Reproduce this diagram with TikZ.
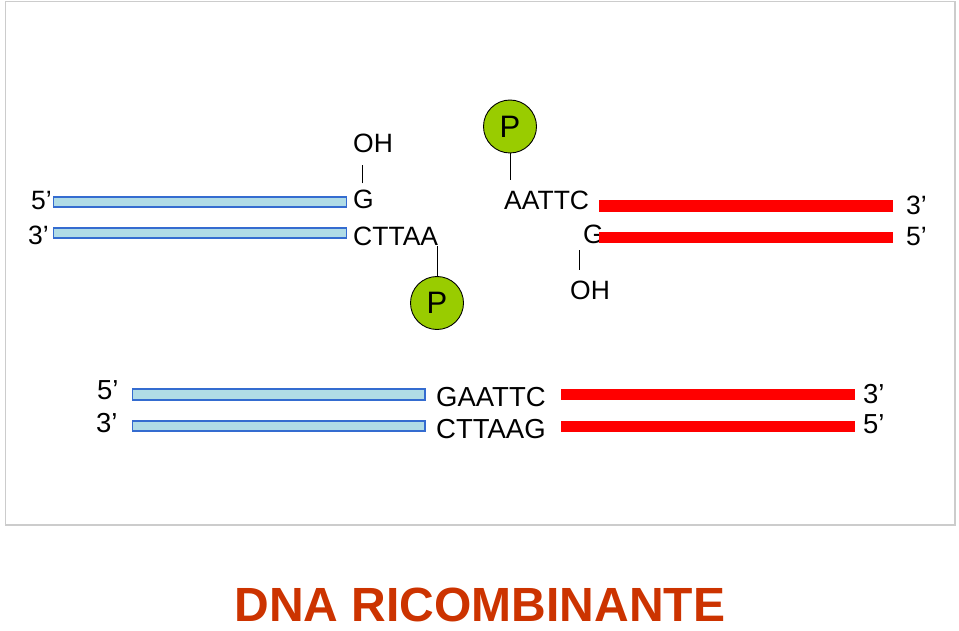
\documentclass[tikz,border=0pt]{standalone}
\usepackage{fontspec}
\setmainfont{Liberation Sans}
\usetikzlibrary{calc}
\definecolor{framegrey}{RGB}{204,204,204}
\definecolor{barblue}{RGB}{52,108,208}
\definecolor{barfill}{RGB}{176,220,230}
\definecolor{barred}{RGB}{255,0,0}
\definecolor{pgreen}{RGB}{153,204,0}
\definecolor{titlered}{RGB}{204,51,0}
\newcommand{\dnafont}{\fontsize{26.5}{30}\selectfont}
\newcommand{\dnafontb}{\fontsize{27.5}{30}\selectfont}
\begin{document}
\begin{tikzpicture}[x=1pt,y=-1pt,
  txt/.style={inner sep=0pt, font=\dnafont, anchor=base west},
  txtb/.style={inner sep=0pt, font=\dnafontb, anchor=base west},
  bluebar/.style={draw=barblue, line width=1.2pt, fill=barfill},
  redbar/.style={fill=barred},
  phos/.style={circle, draw=black, line width=0.9pt, fill=pgreen, minimum size=53pt, inner sep=0pt, font=\fontsize{31}{34}\selectfont},
  stick/.style={draw=black, line width=1pt}]
\useasboundingbox (0,0) rectangle (959,631);
\draw[framegrey, line width=1.5pt] (5.5,1.5) rectangle (955,525);

% ---- top left fragment
\node[txt] (l5) at (31,210) {5’};
\node[txt] (l3) at (28,245) {3’};
\draw[bluebar] (53.5,197) rectangle (346.5,207);
\draw[bluebar] (53.5,228) rectangle (346.5,238);
\node[txt] (OH1) at (353,153) {OH};
\node[txt] (G1) at (353,209) {G};
\node[txt] (CT1) at (353,246) {CTTAA};
\node[phos] (P1) at (437,303) {P};
\draw[stick] ($(G1.north west)+(9.5,-7)$) -- ++(0,-18);
\draw[stick] (P1.north) -- ($(P1.north)+(0,-30)$);

% ---- top right fragment
\node[phos] (P2) at (510,126.5) {P};
\node[txt] (AA2) at (504,210) {AATTC};
\node[txt] (G2) at (583,244) {G};
\node[txt] (OH2) at (570,300) {OH};
\draw[stick] (P2.south) -- ++(0,27);
\draw[stick] ($(G2.south west)+(-4,6)$) -- ++(0,20);
\fill[redbar] (599,200.5) rectangle (893,212);
\fill[redbar] (599,232) rectangle (893,243.5);
\node[txt] (r3) at (906,215) {3’};
\node[txt] (r5) at (906,246) {5’};

% ---- recombinant molecule
\node[txtb] (b5) at (97,399) {5’};
\node[txtb] (b3) at (96,432) {3’};
\draw[bluebar] (132.5,389) rectangle (425,400);
\draw[bluebar] (132.5,421) rectangle (425,431);
\node[txtb] (top) at (436,406) {GAATTC};
\node[txtb] (bot) at (436,438) {CTTAAG};
\fill[redbar] (561,389) rectangle (855,400);
\fill[redbar] (561,421) rectangle (855,432);
\node[txtb] (br3) at (863,403) {3’};
\node[txtb] (br5) at (863,433) {5’};

% ---- title
\node[inner sep=0pt, anchor=base, text=titlered, font=\fontsize{48}{52}\selectfont\bfseries] (title) at (480,621) {DNA RICOMBINANTE};
\end{tikzpicture}
\end{document}
